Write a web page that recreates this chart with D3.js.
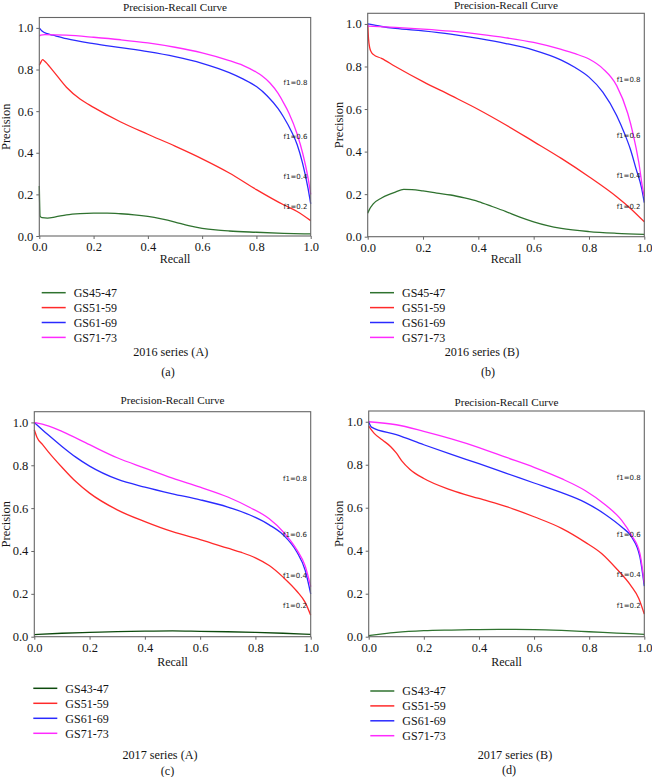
<!DOCTYPE html>
<html><head><meta charset="utf-8">
<script src="https://cdn.jsdelivr.net/npm/d3@7/dist/d3.min.js"></script>
<style>
body{margin:0;background:#fff}
svg{display:block}
.serif{font-family:"Liberation Serif","DejaVu Serif","Times New Roman",serif}
.f1{font-family:"DejaVu Sans",sans-serif}
</style>
</head><body>
<svg id="chart" width="652" height="777"></svg>
<script>
// ---------- DATA ----------
const xTicks = [0, 0.2, 0.4, 0.6, 0.8, 1.0];
const yTicks = [0, 0.2, 0.4, 0.6, 0.8, 1.0];
const names2016 = ["GS45-47", "GS51-59", "GS61-69", "GS71-73"];
const names2017 = ["GS43-47", "GS51-59", "GS61-69", "GS71-73"];
const captions = ["2016 series (A)", "2016 series (B)", "2017 series (A)", "2017 series (B)"];
const letters = ["(a)", "(b)", "(c)", "(d)"];
const f1Text = ["f1=0.2", "f1=0.4", "f1=0.6", "f1=0.8"];
const f1Y = [0.132, 0.276, 0.465, 0.728];
const f1X = 0.9;

// panel (a) 2016 series (A): [recall, precision]
const a_green = [[0,0.24],[0.003,0.095],[0.01,0.088],[0.03,0.086],[0.06,0.092],[0.1,0.102],[0.15,0.108],[0.2,0.11],[0.25,0.11],[0.3,0.107],[0.35,0.102],[0.4,0.094],[0.45,0.082],[0.5,0.067],[0.55,0.05],[0.6,0.037],[0.65,0.029],[0.7,0.024],[0.8,0.018],[0.9,0.013],[1.0,0.01]];
const a_red = [[0,0.82],[0.004,0.83],[0.012,0.848],[0.02,0.84],[0.05,0.795],[0.1,0.715],[0.15,0.658],[0.2,0.618],[0.3,0.548],[0.4,0.489],[0.5,0.432],[0.6,0.371],[0.7,0.303],[0.8,0.223],[0.9,0.15],[0.95,0.118],[1.0,0.074]];
const a_blue = [[0,1.0],[0.01,0.985],[0.03,0.972],[0.05,0.965],[0.1,0.948],[0.2,0.924],[0.3,0.905],[0.4,0.886],[0.5,0.862],[0.6,0.83],[0.7,0.785],[0.75,0.755],[0.8,0.718],[0.84,0.673],[0.88,0.612],[0.9,0.572],[0.93,0.5],[0.95,0.44],[0.97,0.35],[0.99,0.23],[1.0,0.155]];
const a_magenta = [[0,0.96],[0.005,0.965],[0.02,0.968],[0.1,0.965],[0.2,0.955],[0.3,0.943],[0.4,0.928],[0.5,0.907],[0.6,0.88],[0.7,0.843],[0.75,0.82],[0.8,0.787],[0.82,0.77],[0.85,0.735],[0.88,0.685],[0.9,0.64],[0.92,0.59],[0.95,0.49],[0.97,0.4],[0.99,0.28],[1.0,0.2]];

// panel (b) 2016 series (B)
const b_green = [[0,0.11],[0.005,0.125],[0.02,0.154],[0.05,0.182],[0.08,0.2],[0.1,0.21],[0.13,0.222],[0.16,0.221],[0.2,0.215],[0.25,0.205],[0.3,0.196],[0.35,0.182],[0.4,0.165],[0.45,0.142],[0.5,0.118],[0.55,0.092],[0.6,0.07],[0.65,0.052],[0.7,0.039],[0.8,0.024],[0.9,0.016],[1.0,0.011]];
const b_red = [[0,1.0],[0.003,0.93],[0.007,0.89],[0.012,0.87],[0.02,0.857],[0.05,0.838],[0.1,0.8],[0.2,0.729],[0.3,0.664],[0.4,0.598],[0.5,0.525],[0.6,0.447],[0.7,0.368],[0.8,0.282],[0.9,0.188],[0.95,0.133],[1.0,0.07]];
const b_blue = [[0,1.0],[0.05,0.988],[0.1,0.979],[0.2,0.967],[0.3,0.952],[0.4,0.932],[0.5,0.908],[0.6,0.877],[0.7,0.83],[0.75,0.795],[0.8,0.75],[0.85,0.68],[0.9,0.57],[0.93,0.48],[0.95,0.41],[0.97,0.32],[0.99,0.23],[1.0,0.16]];
const b_magenta = [[0,0.99],[0.1,0.984],[0.2,0.976],[0.3,0.966],[0.4,0.952],[0.5,0.935],[0.6,0.913],[0.7,0.88],[0.75,0.86],[0.8,0.835],[0.85,0.79],[0.9,0.71],[0.94,0.58],[0.96,0.48],[0.98,0.35],[0.995,0.22],[1.0,0.19]];

// panel (c) 2017 series (A)
const c_green = [[0,0.01],[0.1,0.016],[0.2,0.02],[0.3,0.024],[0.4,0.026],[0.5,0.027],[0.6,0.025],[0.7,0.023],[0.8,0.02],[0.9,0.016],[1.0,0.011]];
const c_red = [[0,0.966],[0.01,0.93],[0.03,0.896],[0.05,0.864],[0.1,0.791],[0.15,0.724],[0.2,0.67],[0.3,0.592],[0.4,0.537],[0.5,0.49],[0.6,0.453],[0.7,0.413],[0.75,0.393],[0.8,0.368],[0.85,0.332],[0.9,0.278],[0.95,0.212],[0.98,0.16],[1.0,0.1]];
const c_blue = [[0,1.0],[0.05,0.942],[0.1,0.888],[0.15,0.838],[0.2,0.796],[0.3,0.735],[0.4,0.698],[0.5,0.667],[0.6,0.639],[0.7,0.605],[0.78,0.568],[0.85,0.522],[0.9,0.476],[0.95,0.395],[0.98,0.31],[1.0,0.2]];
const c_magenta = [[0,1.0],[0.05,0.984],[0.1,0.958],[0.2,0.896],[0.3,0.835],[0.4,0.787],[0.5,0.74],[0.6,0.698],[0.7,0.652],[0.78,0.603],[0.85,0.55],[0.9,0.49],[0.95,0.405],[0.98,0.33],[1.0,0.234]];

// panel (d) 2017 series (B)
const d_green = [[0,0.005],[0.05,0.013],[0.1,0.02],[0.2,0.028],[0.3,0.031],[0.4,0.033],[0.5,0.034],[0.6,0.033],[0.7,0.029],[0.8,0.023],[0.9,0.017],[1.0,0.011]];
const d_red = [[0,0.98],[0.02,0.946],[0.05,0.915],[0.08,0.884],[0.1,0.855],[0.12,0.818],[0.15,0.778],[0.2,0.736],[0.3,0.682],[0.4,0.643],[0.5,0.605],[0.6,0.558],[0.7,0.504],[0.785,0.44],[0.845,0.387],[0.9,0.315],[0.95,0.24],[0.98,0.178],[1.0,0.105]];
const d_blue = [[0,1.0],[0.01,0.975],[0.1,0.94],[0.2,0.893],[0.3,0.848],[0.4,0.805],[0.5,0.76],[0.6,0.715],[0.7,0.67],[0.785,0.625],[0.857,0.57],[0.918,0.51],[0.954,0.464],[0.984,0.371],[1.0,0.235]];
const d_magenta = [[0,1.0],[0.1,0.986],[0.2,0.955],[0.3,0.92],[0.4,0.88],[0.5,0.834],[0.6,0.788],[0.7,0.735],[0.785,0.68],[0.857,0.615],[0.918,0.541],[0.954,0.471],[0.984,0.388],[1.0,0.249]];

// ---------- LAYOUT ----------
const colorsAB = ["#2f722f", "#ff2a2a", "#2a2aff", "#ff2aff"];
const colorsC  = ["#0d4a0d", "#ff2a2a", "#2a2aff", "#ff2aff"];
const panels = [
  {series:[a_green,a_red,a_blue,a_magenta], names:names2016, colors:colorsAB,
   l:39.3, r:310.7, t:17.5, b:236, titleY:11, yLabX:9.5,
   recallY:263, legX:41.7, legY:292.7, legDy:14.9, capY:355.5, capX:170.7, letY:375.5, letX:168},
  {series:[b_green,b_red,b_blue,b_magenta], names:names2016, colors:colorsAB,
   l:367.7, r:644.3, t:13.3, b:236.7, titleY:9, yLabX:342.5,
   recallY:263, legX:370, legY:292.7, legDy:14.9, capY:355.5, capX:482, letY:375.5, letX:488},
  {series:[c_green,c_red,c_blue,c_magenta], names:names2017, colors:colorsC,
   l:34.3, r:310.7, t:411.7, b:636.7, titleY:403.5, yLabX:9.5,
   recallY:665.5, legX:33.3, legY:688.3, legDy:15, capY:758.5, capX:160, letY:774.5, letX:167.5},
  {series:[d_green,d_red,d_blue,d_magenta], names:names2017, colors:colorsAB,
   l:368.7, r:644.3, t:411, b:636.7, titleY:405.5, yLabX:343,
   recallY:665.5, legX:370.3, legY:691, legDy:14.9, capY:758.5, capX:515, letY:774, letX:509}
];

const svg = d3.select("#chart");
const axisColor = "#666";
const ink = "#141414";

panels.forEach((P, i) => {
  const x = d3.scaleLinear().domain([0, 1]).range([P.l, P.r]);
  const y = d3.scaleLinear().domain([0, 1.05]).range([P.b, P.t]);
  const g = svg.append("g");
  const cx = (P.l + P.r) / 2;

  g.append("text").attr("class", "serif").attr("x", cx).attr("y", P.titleY).attr("text-anchor", "middle")
    .attr("font-size", 11.2).attr("fill", ink).text("Precision-Recall Curve");

  const line = d3.line().x(d => x(d[0])).y(d => y(d[1])).curve(d3.curveMonotoneX);
  P.series.forEach((s, k) => {
    g.append("path").datum(s).attr("d", line).attr("fill", "none")
      .attr("stroke", P.colors[k]).attr("stroke-width", 1.3);
  });

  f1Text.forEach((t, k) => {
    g.append("text").attr("class", "f1").attr("x", x(f1X)).attr("y", y(f1Y[k]))
      .attr("font-size", 7).attr("fill", "#222").text(t);
  });

  g.append("rect").attr("x", P.l).attr("y", P.t).attr("width", P.r - P.l).attr("height", P.b - P.t)
    .attr("fill", "none").attr("stroke", axisColor).attr("stroke-width", 1.1);

  const xa = g.append("g").attr("transform", `translate(0,${P.b})`)
    .call(d3.axisBottom(x).tickValues(xTicks).tickFormat(d3.format(".1f")).tickSize(3).tickPadding(3));
  const ya = g.append("g").attr("transform", `translate(${P.l},0)`)
    .call(d3.axisLeft(y).tickValues(yTicks).tickFormat(d3.format(".1f")).tickSize(3).tickPadding(3));
  [xa, ya].forEach(a => {
    a.attr("font-family", null);
    a.select(".domain").remove();
    a.selectAll("line").attr("stroke", axisColor);
    a.selectAll("text").attr("class", "serif").attr("font-size", 12.5).attr("fill", ink);
  });

  g.append("text").attr("class", "serif").attr("x", cx).attr("y", P.recallY).attr("text-anchor", "middle")
    .attr("font-size", 12).attr("fill", ink).text("Recall");
  g.append("text").attr("class", "serif")
    .attr("transform", `translate(${P.yLabX},${(P.t + P.b) / 2}) rotate(-90)`)
    .attr("text-anchor", "middle").attr("font-size", 12.5).attr("fill", ink).text("Precision");

  P.names.forEach((n, k) => {
    const ly = P.legY + k * P.legDy;
    g.append("line").attr("x1", P.legX).attr("x2", P.legX + 24).attr("y1", ly).attr("y2", ly)
      .attr("stroke", P.colors[k]).attr("stroke-width", 1.5);
    g.append("text").attr("class", "serif").attr("x", P.legX + 32).attr("y", ly + 4.2)
      .attr("font-size", 12).attr("fill", ink).text(n);
  });

  g.append("text").attr("class", "serif").attr("x", P.capX).attr("y", P.capY).attr("text-anchor", "middle")
    .attr("font-size", 12.2).attr("fill", ink).text(captions[i]);
  g.append("text").attr("class", "serif").attr("x", P.letX).attr("y", P.letY).attr("text-anchor", "middle")
    .attr("font-size", 12.2).attr("fill", ink).text(letters[i]);
});
</script>
</body></html>
